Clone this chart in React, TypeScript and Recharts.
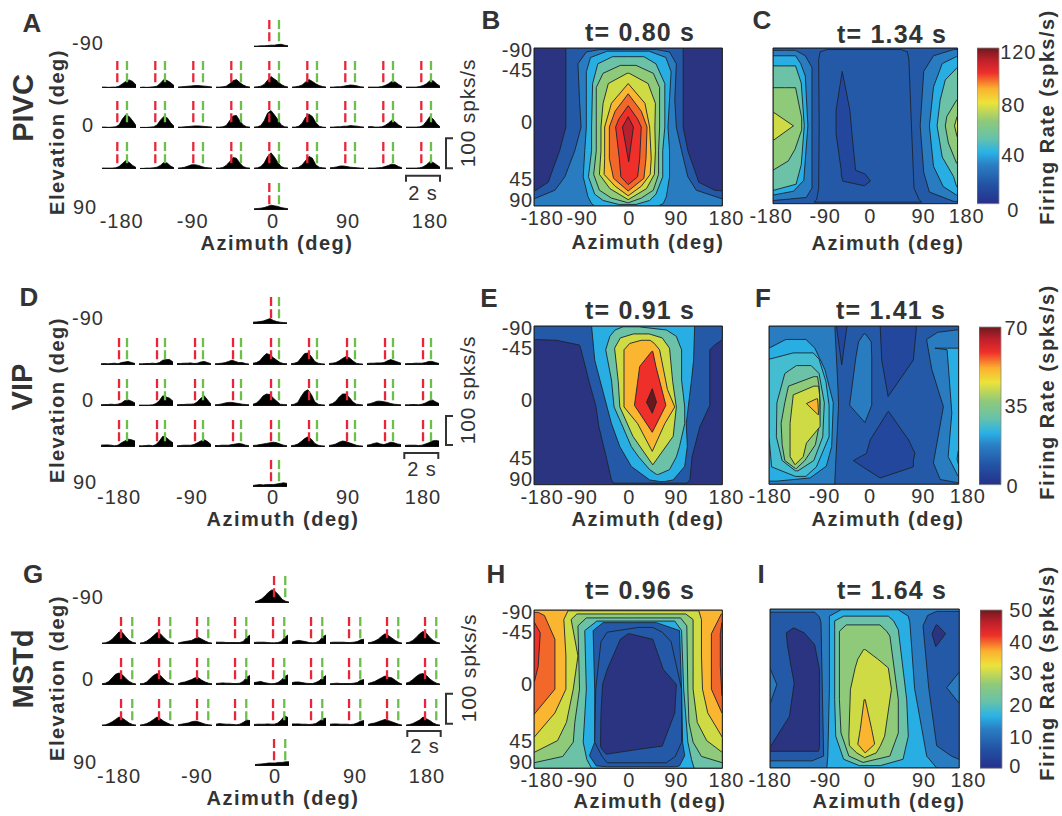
// Firing-rate figure: PSTH grids, azimuth/elevation contour maps and colour bars
// for PIVC, VIP and MSTd. Contours are drawn as range areas on a vertical layout.
import {
  Area,
  Bar,
  ComposedChart,
  ReferenceArea,
  ReferenceLine,
  XAxis,
  YAxis,
} from 'recharts'

// ---- data ----------------------------------------------------------------

const azimuthTicks = [-180, -90, 0, 90, 180]
// sin(elevation) x 100: the maps use a sine-spaced elevation axis
const elevationTicks = [-100, -71, 0, 71, 100]
const elevationLabels = ['-90', '-45', '0', '45', '90']

// PSTH sample times (s) and spike rates (spks/s), one row per cell
const psthTimes = [0, 0.2, 0.4, 0.6, 0.8, 1, 1.2, 1.4, 1.6, 1.8, 2]

const pivcTop = [3, 3, 4, 4, 5, 6, 6, 8, 9, 6, 4]
const pivcBottom = [4, 5, 6, 8, 12, 16, 14, 12, 8, 6, 4]
const pivcGrid = [
  [3, 3, 2, 3, 3, 6, 14, 22, 27, 22, 10],
  [2, 3, 2, 3, 4, 6, 16, 28, 25, 18, 8],
  [3, 4, 5, 6, 7, 8, 8, 7, 6, 5, 3],
  [3, 3, 4, 6, 14, 24, 28, 18, 10, 5, 3],
  [3, 4, 6, 12, 26, 38, 30, 22, 12, 6, 3],
  [3, 4, 6, 10, 20, 28, 22, 14, 8, 5, 3],
  [3, 3, 4, 4, 6, 8, 10, 9, 7, 4, 3],
  [3, 3, 3, 3, 5, 8, 14, 22, 20, 12, 5],
  [3, 3, 3, 3, 5, 8, 14, 24, 24, 14, 6],

  [3, 3, 2, 3, 4, 10, 30, 44, 38, 24, 8],
  [2, 2, 2, 3, 4, 10, 26, 38, 34, 18, 6],
  [3, 3, 4, 5, 6, 7, 7, 6, 5, 4, 3],
  [3, 3, 4, 8, 24, 40, 42, 24, 10, 4, 3],
  [3, 4, 8, 24, 50, 58, 44, 28, 10, 4, 3],
  [3, 3, 6, 16, 36, 46, 38, 18, 6, 3, 2],
  [3, 3, 4, 4, 6, 6, 8, 7, 6, 4, 3],
  [4, 5, 3, 3, 4, 8, 16, 26, 20, 10, 4],
  [3, 3, 3, 3, 4, 8, 22, 38, 30, 14, 4],

  [3, 3, 3, 3, 4, 8, 18, 28, 22, 12, 5],
  [2, 2, 3, 3, 4, 6, 12, 22, 20, 10, 4],
  [3, 4, 6, 10, 14, 14, 12, 8, 5, 4, 3],
  [3, 3, 5, 12, 24, 38, 36, 20, 8, 4, 3],
  [3, 4, 8, 20, 42, 54, 40, 22, 8, 4, 3],
  [3, 4, 6, 14, 28, 42, 36, 14, 6, 4, 3],
  [4, 5, 7, 10, 10, 8, 6, 5, 4, 3, 3],
  [3, 3, 3, 4, 5, 8, 12, 16, 14, 8, 4],
  [3, 3, 3, 3, 4, 7, 14, 24, 22, 14, 6],
]

const vipTop = [6, 7, 8, 10, 14, 18, 12, 8, 6, 5, 4]
const vipBottom = [5, 7, 8, 7, 8, 8, 8, 10, 12, 14, 12]
const vipGrid = [
  [4, 5, 4, 5, 6, 4, 8, 10, 12, 8, 5],
  [4, 4, 5, 5, 6, 5, 8, 16, 18, 18, 10],
  [5, 5, 6, 6, 7, 5, 6, 10, 12, 8, 4],
  [4, 5, 6, 8, 12, 16, 12, 8, 8, 5, 3],
  [6, 8, 14, 28, 38, 34, 24, 16, 8, 5, 4],
  [4, 6, 10, 24, 38, 40, 28, 12, 6, 4, 3],
  [5, 6, 8, 14, 22, 28, 24, 14, 6, 4, 3],
  [5, 6, 6, 7, 7, 8, 14, 18, 14, 10, 6],
  [4, 5, 5, 6, 6, 6, 8, 12, 12, 8, 5],

  [4, 5, 5, 6, 5, 6, 10, 18, 20, 16, 10],
  [3, 3, 3, 3, 4, 8, 18, 34, 30, 26, 16],
  [4, 5, 5, 6, 6, 7, 14, 26, 34, 20, 6],
  [4, 5, 7, 10, 12, 12, 10, 8, 6, 5, 4],
  [6, 10, 20, 34, 40, 38, 26, 16, 6, 5, 4],
  [4, 6, 12, 32, 48, 54, 38, 14, 6, 4, 3],
  [5, 8, 16, 30, 40, 40, 28, 14, 6, 5, 3],
  [6, 8, 12, 16, 16, 14, 12, 8, 6, 5, 4],
  [4, 4, 5, 5, 4, 6, 10, 16, 20, 14, 8],

  [6, 7, 7, 6, 4, 6, 14, 20, 26, 24, 20],
  [4, 4, 5, 6, 4, 8, 20, 36, 32, 22, 14],
  [4, 5, 6, 6, 6, 8, 14, 20, 24, 18, 8],
  [5, 5, 6, 6, 6, 8, 10, 12, 10, 6, 4],
  [5, 6, 8, 10, 12, 14, 16, 14, 10, 6, 4],
  [4, 6, 10, 18, 28, 34, 26, 12, 6, 4, 3],
  [5, 7, 10, 16, 20, 18, 14, 10, 6, 4, 3],
  [6, 8, 12, 14, 10, 8, 12, 16, 14, 10, 8],
  [5, 6, 6, 6, 5, 6, 10, 14, 20, 22, 20],
]

const mstdTop = [4, 8, 14, 24, 36, 44, 38, 26, 12, 6, 3]
const mstdBottom = [5, 6, 7, 8, 10, 10, 10, 12, 12, 14, 14]
const mstdGrid = [
  [3, 4, 8, 16, 28, 40, 38, 24, 12, 6, 3],
  [3, 5, 10, 18, 28, 38, 34, 22, 12, 5, 3],
  [3, 6, 8, 10, 12, 18, 22, 16, 10, 5, 3],
  [6, 6, 6, 5, 5, 5, 5, 5, 8, 22, 30],
  [5, 6, 6, 6, 5, 4, 4, 5, 8, 22, 30],
  [6, 10, 12, 10, 8, 5, 4, 5, 10, 24, 30],
  [5, 6, 6, 6, 6, 5, 5, 6, 8, 14, 16],
  [4, 6, 10, 16, 26, 34, 28, 20, 12, 6, 3],
  [4, 6, 12, 22, 34, 42, 36, 22, 12, 6, 3],

  [4, 6, 12, 24, 36, 40, 34, 22, 12, 6, 3],
  [4, 5, 10, 22, 32, 38, 32, 20, 10, 5, 3],
  [4, 8, 10, 14, 18, 24, 24, 16, 10, 6, 4],
  [5, 6, 7, 6, 6, 5, 5, 6, 12, 26, 32],
  [8, 10, 12, 8, 6, 4, 5, 8, 16, 28, 34],
  [8, 10, 10, 8, 6, 5, 5, 8, 14, 24, 32],
  [4, 5, 6, 5, 5, 5, 5, 6, 8, 16, 18],
  [5, 8, 12, 18, 24, 30, 26, 24, 16, 8, 3],
  [6, 10, 18, 28, 36, 38, 32, 20, 12, 6, 3],

  [3, 4, 8, 14, 22, 30, 26, 18, 10, 5, 3],
  [3, 5, 8, 14, 22, 30, 24, 16, 10, 5, 3],
  [4, 6, 8, 10, 14, 16, 14, 10, 6, 4, 3],
  [6, 8, 7, 6, 6, 5, 4, 6, 12, 20, 18],
  [5, 6, 6, 6, 7, 6, 6, 10, 20, 34, 28],
  [7, 7, 7, 6, 6, 5, 6, 8, 16, 24, 26],
  [6, 7, 7, 6, 6, 6, 5, 6, 10, 16, 18],
  [5, 8, 10, 14, 18, 22, 18, 14, 10, 6, 3],
  [3, 5, 8, 14, 20, 30, 24, 18, 10, 5, 3],
]

// Contour bands: [level, rows], each row = [sin(elev) x 100, left az, right az]
type Row = [number, number, number]
type Band = [number, Row[]]

const contoursB: Band[] = [
  [0, [[-100, -180, 180], [100, -180, 180]]],
  [2, [[-100, -119, 105], [0, -119, 105], [30, -131, 114], [70, -153, 135], [80, -176, 165], [81, -180, 180], [100, -180, 180]]],
  [3, [[-98, -55, 54], [-95, -80, 79], [-80, -96, 92], [-34, -93, 89], [0, -90, 92], [30, -102, 102], [63, -121, 114], [80, -140, 130], [91, -180, 180], [100, -180, 180]]],
  [4, [[-96, -40, 40], [-88, -72, 72], [-70, -80, 82], [0, -80, 76], [30, -83, 79], [63, -86, 79], [88, -77, 73], [97, -70, 67], [100, -64, 57]]],
  [6, [[-89, -30, 30], [-80, -58, 53], [-55, -68, 70], [0, -70, 70], [30, -70, 66], [63, -76, 66], [85, -64, 53], [93, -48, 41], [98, -18, 15]]],
  [7, [[-78, -15, 15], [-68, -48, 48], [-50, -61, 60], [0, -61, 60], [30, -61, 58], [60, -66, 58], [80, -55, 48], [90, -32, 25], [96, 0, 0]]],
  [8, [[-68, -2, 2], [-55, -38, 38], [-30, -48, 52], [0, -52, 51], [30, -52, 52], [60, -55, 50], [78, -35, 35], [92, 0, 0]]],
  [9, [[-55, 0, 0], [-30, -32, 32], [0, -45, 41], [40, -45, 44], [60, -46, 42], [75, -25, 25], [87, 0, 0]]],
  [10, [[-42, 0, 0], [-20, -25, 25], [0, -36, 36], [40, -36, 34], [65, -28, 30], [81, 0, 0]]],
  [11, [[-27, 0, 0], [-10, -18, 18], [0, -24, 25], [40, -17, 22], [63, -14, 18], [73, 0, 0]]],
  [12, [[-13, 0, 0], [0, -11, 10], [44, 1, 1]]],
]

const contoursC: Band[] = [
  [2, [[-100, -180, 180], [100, -180, 180]]],
  [2, [[-98, -75, 70], [-95, -88, 82], [-85, -91, 85], [0, -90, 90], [80, -91, 95], [95, -95, 105], [98, -100, 110]]],
  [1, [[-70, -45, -45], [-20, -57, -30], [10, -57, -26], [57, -47, -19], [62, -47, 0], [71, -44, 10], [77, -2, -2]]],
  [3, [[-97, -180, -136], [-90, -180, -117], [-75, -180, -104], [80, -180, -104], [92, -180, -115], [96, -180, -180]]],
  [4, [[-90, -180, -136], [-80, -180, -126], [-64, -180, -117], [0, -180, -112], [70, -180, -120], [84, -180, -140], [89, -180, -180]]],
  [6, [[-77, -180, -136], [-55, -180, -125], [0, -180, -119], [50, -180, -125], [75, -180, -135], [83, -180, -180]]],
  [7, [[-49, -180, -136], [-10, -180, -124], [5, -180, -124], [30, -180, -137], [45, -180, -150], [57, -180, -180]]],
  [8, [[-17, -180, -178], [0, -180, -140], [18, -180, -178]]],
  [3, [[-98, 172, 180], [-90, 133, 180], [-70, 114, 180], [0, 107, 180], [60, 114, 180], [85, 125, 180], [97, 172, 180]]],
  [4, [[-89, 178, 180], [-80, 150, 180], [-50, 133, 180], [0, 125, 180], [52, 133, 180], [78, 152, 180], [89, 178, 180]]],
  [6, [[-74, 178, 180], [-59, 156, 180], [-33, 146, 180], [0, 140, 180], [40, 150, 180], [65, 172, 180], [78, 178, 180]]],
  [7, [[-33, 178, 180], [-12, 159, 180], [0, 156, 180], [22, 162, 180], [48, 178, 180]]],
  [8, [[-12, 179, 180], [0, 174, 180], [14, 179, 180]]],
]

const contoursE: Band[] = [
  [0, [[-100, -180, 180], [100, -180, 180]]],
  [2, [[-100, -180, 180], [-83, -180, 180], [-82, -137, 178], [-76, -93, 165], [-70, -90, 156], [-28, -74, 156], [0, -62, 156], [27, -56, 137], [65, -42, 122], [94, -32, 118], [98, -28, 112]]],
  [4, [[-100, -70, 127], [-57, -64, 125], [-32, -54, 121], [23, -32, 111], [52, -16, 113], [77, 6, 108], [94, 41, 86], [96, 60, 70]]],
  [6, [[-99, -10, 20], [-95, -25, 73], [-87, -35, 92], [-70, -43, 102], [-32, -32, 102], [2, -27, 108], [23, -13, 108], [52, 6, 98], [65, 20, 92], [81, 41, 79], [87, 54, 58]]],
  [8, [[-90, 10, 40], [-85, -15, 65], [-72, -26, 79], [-30, -19, 85], [2, -16, 92], [39, 9, 86], [75, 47, 47]]],
  [9, [[-82, 25, 42], [-78, 3, 50], [-70, -8, 60], [-20, -8, 75], [2, -8, 89], [23, 18, 70], [58, 46, 46]]],
  [11, [[-68, 45, 47], [-49, 22, 53], [0, 12, 72], [34, 46, 46]]],
  [13, [[-21, 46, 46], [-4, 35, 54], [10, 46, 46]]],
]

const contoursF: Band[] = [
  [2, [[-100, -180, 180], [100, -180, 180]]],
  [3, [[-100, -180, -55], [-20, -180, -49], [0, -180, -48], [95, -180, -55], [100, -180, -55]]],
  [1, [[-100, -52, -32], [-51, -42, -42]]],
  [1, [[-100, 31, 100], [-57, 34, 94], [-11, 46, 46]]],
  [1, [[8, 46, 47], [44, 12, 85], [61, 5, 97], [70, -20, 94], [78, -2, 94], [92, 31, 31]]],
  [3, [[-90, 0, 3], [-80, -10, 14], [-61, -15, 15], [0, -27, 15], [22, 2, 2]]],
  [4, [[-83, -148, -110], [-72, -180, -93], [-45, -180, -74], [-3, -180, -58], [52, -180, -61], [77, -180, -71], [92, -180, -102], [96, -180, -165]]],
  [5, [[-66, -134, -96], [-58, -180, -85], [-30, -180, -72], [0, -180, -66], [40, -180, -66], [78, -175, -90], [90, -130, -110]]],
  [6, [[-50, -128, -100], [-40, -150, -85], [-3, -165, -75], [40, -166, -78], [70, -155, -95], [83, -130, -125]]],
  [7, [[-36, -95, -88], [-24, -143, -85], [-3, -150, -83], [23, -157, -84], [50, -155, -92], [70, -150, -112], [80, -130, -128]]],
  [8, [[-24, -95, -86], [-13, -134, -84], [23, -140, -83], [27, -140, -83], [48, -140, -109], [65, -140, -115], [75, -131, -130]]],
  [9, [[-8, -90, -88], [-2, -109, -87], [12, -87, -86]]],
  [3, [[-95, 175, 180], [-92, 140, 180], [-83, 119, 180], [-45, 129, 180], [2, 151, 180], [73, 132, 180], [94, 145, 180], [98, 178, 180]]],
  [4, [[-72, 135, 180], [-70, 158, 180], [10, 167, 180], [65, 160, 180], [90, 179, 180]]],
  [6, [[58, 179, 180], [68, 177, 180], [74, 179, 180]]],
]

const contoursH: Band[] = [
  [9, [[-100, -180, 180], [100, -180, 180]]],
  [10, [[-97, -180, -172], [-93, -180, -160], [-63, -180, -140], [0, -180, -140], [32, -180, -180]]],
  [10, [[-95, 178, 180], [-70, 159, 180], [0, 159, 180], [30, 179, 180]]],
  [11, [[-84, -180, -179], [-71, -180, -168], [-29, -180, -172], [-10, -180, -179]]],
  [11, [[-84, 179, 180], [-70, 176, 180], [-29, 176, 180], [8, 179, 180]]],
  [8, [[-99, -115, 135], [-88, -123, 140], [-42, -119, 140], [0, -119, 142], [30, -140, 152], [61, -180, 180], [100, -180, 180]]],
  [7, [[-95, -98, 110], [-88, -109, 124], [-42, -96, 124], [0, -105, 124], [42, -118, 132], [65, -135, 150], [80, -180, 180], [100, -180, 180]]],
  [6, [[-90, -80, 100], [-80, -96, 112], [0, -93, 114], [42, -102, 116], [67, -105, 124], [85, -125, 140], [93, -180, 180], [100, -180, 180]]],
  [4, [[-86, -60, 89], [-74, -83, 102], [0, -80, 106], [67, -86, 114], [89, -79, 121], [100, -70, 126]]],
  [2, [[-84, -48, 54], [-74, -67, 98], [0, -64, 102], [67, -64, 104], [84, -74, 108], [97, -61, 98], [98, -40, 90]]],
  [2, [[-78, 20, 47], [-72, -40, 65], [-60, -52, 82], [0, -62, 102], [67, -64, 102], [85, -50, 90], [93, -40, 73]]],
  [0, [[-70, 0, 2], [-63, -15, 47], [-25, -40, 67], [-6, -49, 92], [30, -52, 89], [72, -53, 65], [76, -50, 20], [82, -42, -40]]],
]

const contoursI: Band[] = [
  [3, [[-100, -180, 180], [100, -180, 180]]],
  [2, [[-96, -180, -95], [-90, -180, -86], [-83, -180, -83], [85, -180, -78], [91, -180, -100]]],
  [0, [[-76, -136, -134], [-70, -149, -115], [-55, -147, -95], [-24, -139, -86], [-7, -134, -86], [35, -143, -86], [74, -180, -86], [79, -180, -88]]],
  [3, [[-24, -180, -179], [-5, -180, -167], [18, -180, -179]]],
  [2, [[-97, 137, 180], [-92, 120, 180], [-79, 111, 180], [0, 122, 180], [72, 137, 180], [85, 165, 180], [89, 179, 180]]],
  [3, [[-20, 179, 180], [-1, 156, 180], [18, 179, 180]]],
  [0, [[-80, 136, 138], [-69, 128, 154], [-53, 135, 136]]],
  [4, [[-99, -45, 64], [-91, -67, 83], [-83, -67, 86], [0, -67, 95], [85, -70, 118], [100, -72, 137]]],
  [6, [[-91, -40, 45], [-85, -57, 55], [-74, -57, 64], [14, -57, 80], [60, -55, 83], [89, -40, 73], [97, -10, 30]]],
  [7, [[-80, -35, 29], [-72, -48, 42], [-66, -48, 48], [14, -48, 64], [56, -45, 64], [85, -30, 48], [93, -3, -3]]],
  [8, [[-49, -2, 1], [-37, -13, 25], [-26, -18, 45], [1, -27, 51], [60, -30, 38], [72, -29, 30], [81, -15, 22], [87, 0, 0]]],
  [9, [[14, -1, 1], [50, -8, 13], [70, -13, 19], [81, 1, 1]]],
]

// ---- styles --------------------------------------------------------------

const FONT = '"Liberation Sans", Arial, sans-serif'
const INK = '#333333'
const LEVEL_COLORS = [
  '#2b3480', '#22479c', '#2459a8', '#2a7cc0', '#29aee3', '#45bdd0', '#6bc2a6',
  '#8fc97a', '#cedb45', '#fbb631', '#f2682b', '#ee2f2a', '#b8202e', '#661a1e',
]
const JET_STOPS: [number, string][] = [
  [0, '#26308a'], [0.12, '#2252a4'], [0.25, '#2b7fc4'], [0.33, '#2ab2e6'], [0.42, '#66c2aa'],
  [0.53, '#8fc97a'], [0.65, '#ece33a'], [0.74, '#fbb02f'], [0.84, '#ee2f2a'], [0.92, '#c0202c'], [1, '#6e1a1e'],
]
const ELEV_DY: Record<number, number> = { [-100]: 9, [-71]: 6, 0: 2, 71: 3, 100: 1 }

// ---- pieces --------------------------------------------------------------

function PsthCell({ x, base, values, red, green }: { x: number; base: number; values: number[]; red: number; green: number }) {
  const rows = psthTimes.map((t, i) => ({ t, rate: values[i] }))
  return (
    <div style={{ position: 'absolute', left: x, top: base - 27 }}>
      <ComposedChart width={34} height={27} data={rows} margin={{ top: 0, right: 0, bottom: 0, left: 0 }}>
        <XAxis dataKey="t" type="number" domain={[0, 2]} hide />
        <YAxis type="number" domain={[0, 90]} hide />
        <Area dataKey="rate" type="linear" fill="#000" fillOpacity={1} stroke="#000" strokeWidth={0.8} isAnimationActive={false} dot={false} activeDot={false} />
        <ReferenceLine y={0} stroke="#111" strokeWidth={1.8} />
        <ReferenceLine segment={[{ x: red, y: 90 }, { x: red, y: 15 }]} stroke="#e8263a" strokeWidth={2.3} strokeDasharray="9 3.3" />
        <ReferenceLine segment={[{ x: green, y: 90 }, { x: green, y: 15 }]} stroke="#6cc04a" strokeWidth={2.3} strokeDasharray="9 3.3" />
      </ComposedChart>
    </div>
  )
}

function PsthGrid({ x0, x0Top, bases, grid, top, bottom, red, green }: {
  x0: number; x0Top: number; bases: number[]; grid: number[][]; top: number[]; bottom: number[]; red: number; green: number
}) {
  return (
    <>
      <PsthCell x={x0Top} base={bases[0]} values={top} red={red} green={green} />
      {grid.map((values, i) => (
        <PsthCell key={i} x={x0 + (i % 9) * 38} base={bases[1 + Math.floor(i / 9)]} values={values} red={red} green={green} />
      ))}
      <PsthCell x={x0Top} base={bases[4]} values={bottom} red={red} green={green} />
    </>
  )
}

function ContourMap({ box, bands, showElevation, tickDx }: {
  box: { x: number; y: number; w: number; h: number }; bands: Band[]; showElevation: boolean; tickDx: number[]
}) {
  const left = 50
  const right = 30
  const top = 12
  const bottom = 30
  return (
    <div style={{ position: 'absolute', left: box.x - left, top: box.y - top }}>
      <ComposedChart
        layout="vertical"
        width={box.w + left + right}
        height={box.h + top + bottom}
        margin={{ top, right, bottom: 0, left: 0 }}
      >
        <XAxis
          type="number"
          domain={[-180, 180]}
          ticks={azimuthTicks}
          height={bottom}
          axisLine={false}
          tickLine={false}
          interval={0}
          allowDataOverflow
          tick={(p: any) => (
            <text x={p.x + tickDx[azimuthTicks.indexOf(p.payload.value)]} y={top + box.h + 19} textAnchor="middle" fontSize={20} fill={INK} fontFamily={FONT} letterSpacing={0.8}>
              {p.payload.value}
            </text>
          )}
        />
        <YAxis
          type="number"
          dataKey="el"
          domain={[-100, 100]}
          ticks={elevationTicks}
          width={left}
          axisLine={false}
          tickLine={false}
          interval={0}
          allowDataOverflow
          tick={showElevation ? (p: any) => (
            <text x={left - 1} y={p.y + ELEV_DY[p.payload.value]} textAnchor="end" fontSize={20} fill={INK} fontFamily={FONT} letterSpacing={0.8}>
              {elevationLabels[elevationTicks.indexOf(p.payload.value)]}
            </text>
          ) : false}
        />
        {bands.map(([level, rows], i) => {
          // close the outline of each band at its first and last row
          const [y0, a0, b0] = rows[0]
          const [y1, a1, b1] = rows[rows.length - 1]
          const data = [
            { el: y0, r: [(a0 + b0) / 2, (a0 + b0) / 2] },
            ...rows.map(([el, lo, hi]) => ({ el, r: [lo, hi] })),
            { el: y1, r: [(a1 + b1) / 2, (a1 + b1) / 2] },
          ]
          return (
            <Area
              key={i}
              data={data}
              dataKey="r"
              type="linear"
              fill={LEVEL_COLORS[level]}
              fillOpacity={1}
              stroke="#1c2430"
              strokeWidth={0.9}
              isAnimationActive={false}
              dot={false}
              activeDot={false}
            />
          )
        })}
        <ReferenceArea x1={-180} x2={180} y1={-100} y2={100} fill="none" stroke="#222" strokeWidth={1} />
      </ComposedChart>
    </div>
  )
}

function ColorBar({ id, box, max, ticks, dx, dy }: {
  id: string; box: { x: number; y: number; w: number; h: number }; max: number; ticks: number[]; dx: number[]; dy: number[]
}) {
  const axisW = 45
  const pad = 22
  return (
    <div style={{ position: 'absolute', left: box.x, top: box.y - pad }}>
      <ComposedChart
        width={box.w + axisW}
        height={box.h + pad * 2}
        data={[{ name: 'rate', top: max }]}
        margin={{ top: pad, right: 0, bottom: pad, left: 0 }}
        barCategoryGap={0}
      >
        <defs>
          <linearGradient id={id} x1="0" y1="1" x2="0" y2="0">
            {JET_STOPS.map(([o, c]) => <stop key={o} offset={o} stopColor={c} />)}
          </linearGradient>
        </defs>
        <XAxis dataKey="name" type="category" hide />
        <YAxis
          orientation="right"
          type="number"
          domain={[0, max]}
          ticks={ticks}
          interval={0}
          width={axisW}
          axisLine={false}
          tickLine={false}
          tick={(p: any) => {
            const i = ticks.indexOf(p.payload.value)
            return (
              <text x={box.w + dx[i]} y={p.y + 7 + dy[i]} fontSize={20} fill={INK} fontFamily={FONT} letterSpacing={0.8}>
                {p.payload.value}
              </text>
            )
          }}
        />
        <Bar dataKey="top" fill={`url(#${id})`} stroke="#8a8a8a" strokeWidth={0.8} isAnimationActive={false} />
      </ComposedChart>
    </div>
  )
}

function T({ x, y, size = 20, bold = false, rot = 0, ls = 0, anchor = 'middle', children }: {
  x: number; y: number; size?: number; bold?: boolean; rot?: number; ls?: number; anchor?: string; children: any
}) {
  return (
    <text
      x={x}
      y={y}
      dominantBaseline="central"
      textAnchor={anchor as any}
      fontSize={size}
      fontWeight={bold ? 700 : 400}
      letterSpacing={ls}
      fill={INK}
      transform={rot ? `rotate(${rot} ${x} ${y})` : undefined}
    >
      {children}
    </text>
  )
}

function Bracket({ vx, vy0, vy1, hx0, hx1, hy }: { vx: number; vy0: number; vy1: number; hx0: number; hx1: number; hy: number }) {
  return (
    <>
      <path d={`M${vx + 7} ${vy0} H${vx} V${vy1} H${vx + 7}`} fill="none" stroke={INK} strokeWidth={2} />
      <path d={`M${hx0} ${hy + 6} V${hy} H${hx1} V${hy + 6}`} fill="none" stroke={INK} strokeWidth={2} />
    </>
  )
}

// ---- figure --------------------------------------------------------------

export default function App() {
  return (
    <div style={{ position: 'absolute', left: 0, top: 0, width: 1062, height: 816, background: '#fff', fontFamily: FONT, overflow: 'hidden' }}>
      <PsthGrid x0={102} x0Top={254} bases={[47, 88, 128.3, 169, 210.3]} grid={pivcGrid} top={pivcTop} bottom={pivcBottom} red={0.9} green={1.47} />
      <PsthGrid x0={101} x0Top={253.3} bases={[323.7, 365, 406, 446.7, 487.3]} grid={vipGrid} top={vipTop} bottom={vipBottom} red={1.06} green={1.53} />
      <PsthGrid x0={102} x0Top={254.7} bases={[603, 644, 684.7, 725.7, 766.3]} grid={mstdGrid} top={mstdTop} bottom={mstdBottom} red={1.12} green={1.78} />

      <ContourMap box={{ x: 534.3, y: 47.7, w: 188.4, h: 158 }} bands={contoursB} showElevation tickDx={[8, 1, 1, 1, 4]} />
      <ContourMap box={{ x: 772.7, y: 48, w: 184.6, h: 155.7 }} bands={contoursC} showElevation={false} tickDx={[-2, 6, 5, 12, 9]} />
      <ContourMap box={{ x: 534.3, y: 326, w: 188.4, h: 158.7 }} bands={contoursE} showElevation tickDx={[8, 1, 1, 1, 4]} />
      <ContourMap box={{ x: 769, y: 326, w: 189.7, h: 158.3 }} bands={contoursF} showElevation={false} tickDx={[1, 8, 6, 12, 9]} />
      <ContourMap box={{ x: 534.3, y: 610, w: 188.4, h: 158.3 }} bands={contoursH} showElevation tickDx={[8, 1, 1, 1, 4]} />
      <ContourMap box={{ x: 770, y: 609, w: 189.3, h: 159 }} bands={contoursI} showElevation={false} tickDx={[0, 8, 5, 12, 9]} />

      <ColorBar id="jetA" box={{ x: 977, y: 48.3, w: 22.3, h: 155.7 }} max={120} ticks={[0, 40, 80, 120]} dx={[8, 2, 2, 1]} dy={[6, 3, 5, 4]} />
      <ColorBar id="jetB" box={{ x: 979.3, y: 327, w: 22.4, h: 157.7 }} max={70} ticks={[0, 35, 70]} dx={[5, 3, 3]} dy={[1, 0, 1]} />
      <ColorBar id="jetC" box={{ x: 979.7, y: 610, w: 22.3, h: 158.3 }} max={50} ticks={[0, 10, 20, 30, 40, 50]} dx={[7, 7, 7, 7, 7, 7]} dy={[-2, 0, 0, 0, 0, 0]} />

      <svg width={1062} height={816} style={{ position: 'absolute', left: 0, top: 0, pointerEvents: 'none', fontFamily: FONT }}>
        {/* panel letters */}
        <T x={32} y={23} size={26} bold>A</T>
        <T x={491} y={20} size={26} bold>B</T>
        <T x={762} y={20} size={26} bold>C</T>
        <T x={29} y={297} size={26} bold>D</T>
        <T x={489} y={298} size={26} bold>E</T>
        <T x={763} y={298} size={26} bold>F</T>
        <T x={33} y={574} size={26} bold>G</T>
        <T x={496} y={574} size={26} bold>H</T>
        <T x={761} y={574} size={26} bold>I</T>

        {/* area names */}
        <T x={23} y={108} size={29} bold rot={-90}>PIVC</T>
        <T x={22} y={387} size={29} bold rot={-90}>VIP</T>
        <T x={23} y={669} size={29} bold rot={-90}>MSTd</T>

        {/* map titles */}
        <T x={640} y={32} size={25} bold ls={1.2}>t= 0.80 s</T>
        <T x={892} y={34} size={25} bold ls={1.2}>t= 1.34 s</T>
        <T x={640} y={310} size={25} bold ls={1.2}>t= 0.91 s</T>
        <T x={891} y={310} size={25} bold ls={1.2}>t= 1.41 s</T>
        <T x={640} y={590} size={25} bold ls={1.2}>t= 0.96 s</T>
        <T x={892} y={590} size={25} bold ls={1.2}>t= 1.64 s</T>

        {/* axis titles */}
        <T x={277} y={243} bold ls={1.5}>Azimuth (deg)</T>
        <T x={283} y={519} bold ls={1.5}>Azimuth (deg)</T>
        <T x={283} y={798} bold ls={1.5}>Azimuth (deg)</T>
        <T x={648} y={242} bold ls={1.5}>Azimuth (deg)</T>
        <T x={888} y={243} bold ls={1.5}>Azimuth (deg)</T>
        <T x={648} y={519} bold ls={1.5}>Azimuth (deg)</T>
        <T x={888} y={519} bold ls={1.5}>Azimuth (deg)</T>
        <T x={650} y={801} bold ls={1.5}>Azimuth (deg)</T>
        <T x={889} y={801} bold ls={1.5}>Azimuth (deg)</T>
        <T x={57} y={132} bold ls={1.5} rot={-90}>Elevation (deg)</T>
        <T x={57} y={400} bold ls={1.5} rot={-90}>Elevation (deg)</T>
        <T x={57} y={678} bold ls={1.5} rot={-90}>Elevation (deg)</T>
        <T x={1047} y={117} bold ls={1.5} rot={-90}>Firing Rate (spks/s)</T>
        <T x={1047} y={392} bold ls={1.5} rot={-90}>Firing Rate (spks/s)</T>
        <T x={1047} y={673} bold ls={1.5} rot={-90}>Firing Rate (spks/s)</T>

        {/* PSTH grid labels */}
        {[121.7, 192.7, 273, 348, 430].map((x, i) => <T key={i} x={x} y={221} ls={1}>{azimuthTicks[i]}</T>)}
        {[119, 192, 273, 348, 423].map((x, i) => <T key={i} x={x} y={497} ls={1}>{azimuthTicks[i]}</T>)}
        {[119, 197, 275, 355, 427].map((x, i) => <T key={i} x={x} y={776} ls={1}>{azimuthTicks[i]}</T>)}
        <T x={88} y={43} ls={1}>-90</T>
        <T x={88} y={125} ls={1}>0</T>
        <T x={85} y={207} ls={1}>90</T>
        <T x={88} y={318} ls={1}>-90</T>
        <T x={88} y={400} ls={1}>0</T>
        <T x={85} y={482} ls={1}>90</T>
        <T x={88} y={597} ls={1}>-90</T>
        <T x={88} y={679} ls={1}>0</T>
        <T x={85} y={762} ls={1}>90</T>

        {/* scale bars */}
        <Bracket vx={446} vy0={138.3} vy1={168.3} hx0={406} hx1={440} hy={175.7} />
        <Bracket vx={446} vy0={416} vy1={445} hx0={404.3} hx1={438.3} hy={453} />
        <Bracket vx={446} vy0={693.7} vy1={723.7} hx0={407.3} hx1={440.7} hy={731} />
        <T x={467} y={113} ls={1}>{''}</T>
        <T x={467} y={113} size={21} ls={0.8} rot={-90}>100 spks/s</T>
        <T x={467} y={390} size={21} ls={0.8} rot={-90}>100 spks/s</T>
        <T x={468} y={668} size={21} ls={0.8} rot={-90}>100 spks/s</T>
        <T x={423} y={193} ls={1}>2 s</T>
        <T x={422} y={469} ls={1}>2 s</T>
        <T x={425} y={746} ls={1}>2 s</T>
      </svg>
    </div>
  )
}
